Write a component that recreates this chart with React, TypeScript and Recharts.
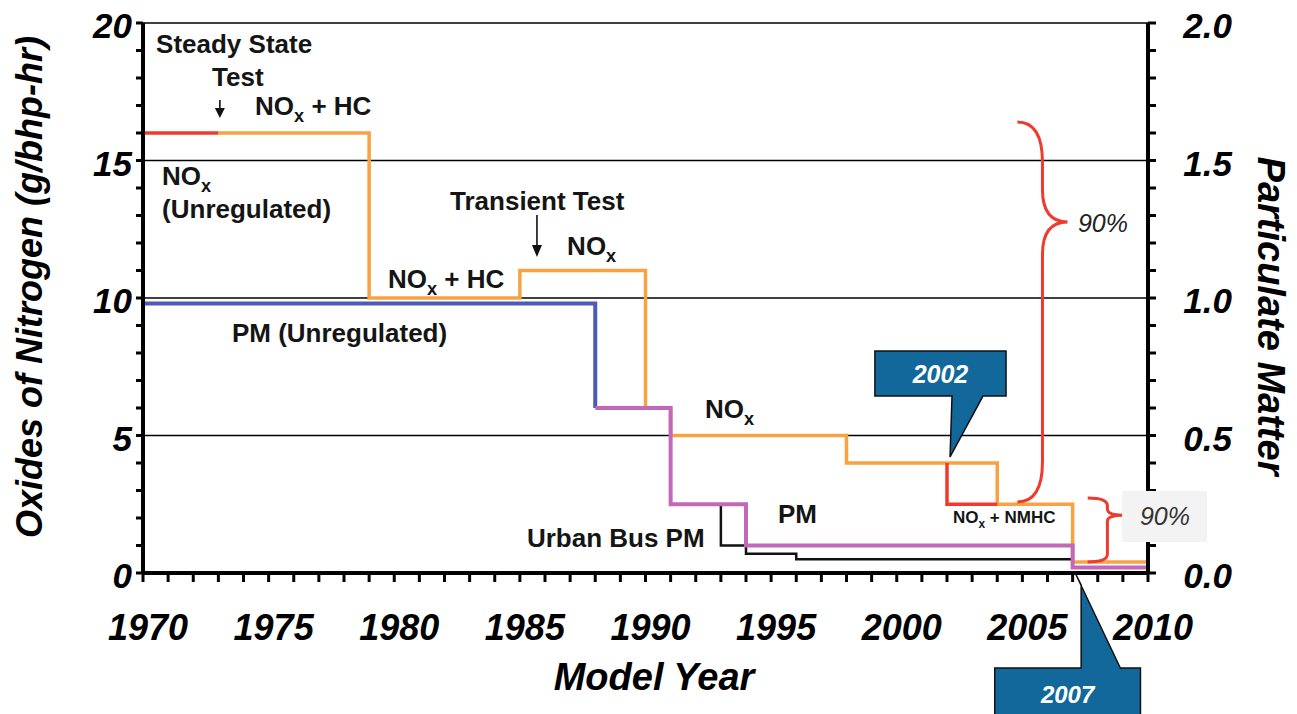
import React from "react";
import {
  ComposedChart,
  Line,
  XAxis,
  YAxis,
  Label,
  ReferenceLine,
  ReferenceArea,
  ReferenceDot,
} from "recharts";

const FONT = '"Liberation Sans", Arial, Helvetica, sans-serif';

// NOx limits (g/bhp-hr), step starts by model year
const noxUnregYears = [1970, 1973];
const noxUnregValues = [16, 16];
const noxStdYears = [1973, 1979, 1985, 1990, 1991, 1998, 2004, 2007, 2010];
const noxStdValues = [16, 10, 11, 6, 5, 4, 2.5, 0.4, 0.4];
const nmhcOptYears = [2002, 2002, 2004];
const nmhcOptValues = [4, 2.5, 2.5];

// PM limits (g/bhp-hr), right axis
const pmUnregYears = [1970, 1988];
const pmUnregValues = [0.98, 0.6];
const pmStdYears = [1988, 1991, 1994, 2007, 2010];
const pmStdValues = [0.6, 0.25, 0.1, 0.02, 0.02];
const busPmYears = [1993, 1993, 1994, 1996, 2007];
const busPmValues = [0.25, 0.1, 0.07, 0.05, 0.05];

// labelled ticks
const yearLabels = [1970, 1975, 1980, 1985, 1990, 1995, 2000, 2005, 2010];
const noxLabels = [0, 5, 10, 15, 20];
const pmLabels = ["0.0", "0.5", "1.0", "1.5", "2.0"];
const gridLevels = [5, 10, 15, 20];

// minor ticks, one per year / per unit
const yearTicks = Array.from({ length: 41 }, (_, i) => 1970 + i);
const noxTicks = Array.from({ length: 21 }, (_, i) => i);
const pmTicks = noxTicks.map((n) => n / 10);

const toPoints = (years: number[], values: number[]) =>
  years.map((year, i) => ({ year, v: values[i] }));

const COLORS = {
  red: "#ee3b2e",
  orange: "#f8a241",
  blue: "#4b5bb6",
  purple: "#c367b8",
  black: "#111111",
  callout: "#12679b",
};

const tickFont = {
  fontFamily: FONT,
  fontWeight: "bold" as const,
  fontStyle: "italic" as const,
  fill: "#000",
};

function YearTick({ x, y, payload }: any) {
  if (!yearLabels.includes(payload.value)) return <g />;
  return (
    <text x={x + 5} y={y + 58} textAnchor="middle" fontSize={36} {...tickFont}>
      {payload.value}
    </text>
  );
}

function NoxTick({ x, y, payload }: any) {
  if (!noxLabels.includes(payload.value)) return <g />;
  return (
    <text x={x - 4} y={y + 15} textAnchor="end" fontSize={35} {...tickFont}>
      {payload.value}
    </text>
  );
}

function PmTick({ x, y, payload }: any) {
  const label = payload.value.toFixed(1);
  if (!pmLabels.includes(label)) return <g />;
  return (
    <text x={x + 76} y={y + 15} textAnchor="end" fontSize={35} {...tickFont}>
      {label}
    </text>
  );
}

function LeftTitle({ viewBox }: any) {
  const cx = viewBox.x + 42;
  const cy = viewBox.y + viewBox.height / 2 - 11;
  return (
    <text
      x={cx}
      y={cy}
      transform={`rotate(-90 ${cx} ${cy})`}
      textAnchor="middle"
      fontSize={36}
      {...tickFont}
    >
      Oxides of Nitrogen (g/bhp-hr)
    </text>
  );
}

function RightTitle({ viewBox }: any) {
  const cx = viewBox.x + 110;
  const cy = viewBox.y + viewBox.height / 2 + 18;
  return (
    <text
      x={cx}
      y={cy}
      transform={`rotate(90 ${cx} ${cy})`}
      textAnchor="middle"
      fontSize={38}
      {...tickFont}
    >
      Particulate Matter
    </text>
  );
}

function BottomTitle({ viewBox }: any) {
  return (
    <text
      x={viewBox.x + 511}
      y={viewBox.y + 117}
      textAnchor="middle"
      fontSize={38}
      {...tickFont}
    >
      Model Year
    </text>
  );
}

// "NOx" with a subscript x, followed by the rest of the label
function nox(size: number, tail = "") {
  return [
    "NO",
    <tspan key="s" fontSize={size * 0.7} dy={size * 0.28}>
      x
    </tspan>,
    <tspan key="t" dy={-size * 0.28}>
      {tail}
    </tspan>,
  ];
}

function note(
  key: string,
  year: number,
  level: number,
  content: any,
  size = 26,
  extra: any = {}
) {
  return (
    <ReferenceDot
      key={key}
      x={year}
      y={level}
      yAxisId="left"
      r={0}
      ifOverflow="visible"
      zIndex={1600}
      shape={(p: any) => (
        <text
          x={p.cx}
          y={p.cy}
          fontFamily={FONT}
          fontSize={size}
          fontWeight="bold"
          fill="#151515"
          {...extra}
        >
          {content}
        </text>
      )}
    />
  );
}

function braceShape(tipFrac: number, midFrac: number) {
  return ({ x, y, width, height }: any) => {
    const xm = x + width * midFrac;
    const xr = x + width;
    const yb = y + height;
    const yt = y + height * tipFrac;
    const r = Math.min(width * 0.8, height * 0.12);
    const d = [
      `M${x},${y}`,
      `Q${xm},${y} ${xm},${y + r}`,
      `L${xm},${yt - r * 0.8}`,
      `Q${xm},${yt} ${xr},${yt}`,
      `Q${xm},${yt} ${xm},${yt + r * 0.8}`,
      `L${xm},${yb - r}`,
      `Q${xm},${yb} ${x},${yb}`,
    ].join(" ");
    return <path d={d} fill="none" stroke={COLORS.red} strokeWidth={3} />;
  };
}

function arrowShape({ x, y, width, height }: any) {
  const cx = x + width / 2;
  const head = Math.min(12, height * 0.55);
  return (
    <g>
      <line x1={cx} y1={y} x2={cx} y2={y + height - head + 1} stroke="#111" strokeWidth={1.6} />
      <path
        d={`M${cx - 5},${y + height - head} L${cx + 5},${y + height - head} L${cx},${y + height} Z`}
        fill="#111"
      />
    </g>
  );
}

function Callout2002({ x, y, width: w, height: h }: any) {
  const boxB = y + h * 0.425;
  const tipX = x + w * 0.573;
  const d = `M${x},${y} H${x + w} V${boxB} H${x + w * 0.824} L${tipX},${y + h} L${x + w * 0.588},${boxB} H${x} Z`;
  return (
    <g>
      <path d={d} fill={COLORS.callout} stroke="#111" strokeWidth={1.5} />
      <text
        x={x + w / 2}
        y={(y + boxB) / 2 + 9}
        textAnchor="middle"
        fontFamily={FONT}
        fontSize={25}
        fontWeight="bold"
        fontStyle="italic"
        fill="#fff"
      >
        2002
      </text>
    </g>
  );
}

function Callout2007({ x, y, width: w, height: h }: any) {
  const boxT = y + h * 0.576;
  const tipX = x + w * 0.552;
  const d = `M${tipX},${y} L${x + w * 0.862},${boxT} H${x + w} V${y + h} H${x} V${boxT} H${x + w * 0.593} V${y + 12} Z`;
  return (
    <g>
      <path d={d} fill={COLORS.callout} stroke="#111" strokeWidth={1.5} />
      <text
        x={x + w / 2}
        y={boxT + 35}
        textAnchor="middle"
        fontFamily={FONT}
        fontSize={24}
        fontWeight="bold"
        fontStyle="italic"
        fill="#fff"
      >
        2007
      </text>
    </g>
  );
}

export default function App() {
  const stepLine = (
    key: string,
    years: number[],
    values: number[],
    axis: string,
    color: string,
    width: number
  ) => (
    <Line
      key={key}
      data={toPoints(years, values)}
      dataKey="v"
      yAxisId={axis}
      type="stepAfter"
      stroke={color}
      strokeWidth={width}
      dot={false}
      activeDot={false}
      isAnimationActive={false}
    />
  );

  return (
    <div style={{ position: "absolute", left: 0, top: 0, width: 1297, height: 714, background: "#fff" }}>
      <ComposedChart width={1297} height={714} margin={{ top: 23, right: 0, bottom: 0, left: 0 }}>
        {gridLevels.map((g) => (
          <ReferenceLine key={`g${g}`} y={g} yAxisId="left" stroke="#000" strokeWidth={1.6} zIndex={-100} />
        ))}
        <XAxis
          type="number"
          dataKey="year"
          domain={[1970, 2010]}
          ticks={yearTicks}
          interval={0}
          tick={YearTick}
          tickSize={9}
          tickMargin={0}
          height={141}
          tickLine={{ stroke: "#000", strokeWidth: 3 }}
          axisLine={{ stroke: "#000", strokeWidth: 4 }}
        >
          <Label content={BottomTitle} />
        </XAxis>
        <YAxis
          yAxisId="left"
          orientation="left"
          type="number"
          domain={[0, 20]}
          ticks={noxTicks}
          interval={0}
          tick={NoxTick}
          tickSize={7}
          tickMargin={0}
          width={143}
          tickLine={{ stroke: "#000", strokeWidth: 3 }}
          axisLine={{ stroke: "#000", strokeWidth: 4 }}
        >
          <Label content={LeftTitle} />
        </YAxis>
        <YAxis
          yAxisId="right"
          orientation="right"
          type="number"
          domain={[0, 2]}
          ticks={pmTicks}
          interval={0}
          tick={PmTick}
          tickSize={8}
          tickMargin={0}
          width={149}
          tickLine={{ stroke: "#000", strokeWidth: 3 }}
          axisLine={{ stroke: "#000", strokeWidth: 4 }}
        >
          <Label content={RightTitle} />
        </YAxis>

        {stepLine("noxStd", noxStdYears, noxStdValues, "left", COLORS.orange, 3.5)}
        {stepLine("noxUnreg", noxUnregYears, noxUnregValues, "left", COLORS.red, 3.5)}
        {stepLine("nmhc", nmhcOptYears, nmhcOptValues, "left", COLORS.red, 3.5)}
        {stepLine("pmUnreg", pmUnregYears, pmUnregValues, "right", COLORS.blue, 4)}
        {stepLine("bus", busPmYears, busPmValues, "right", COLORS.black, 2.5)}
        {stepLine("pmStd", pmStdYears, pmStdValues, "right", COLORS.purple, 4)}

        {/* braces and callouts */}
        <ReferenceArea
          x1={2004.8}
          x2={2006.8}
          y1={2.58}
          y2={16.4}
          yAxisId="left"
          ifOverflow="visible"
          zIndex={1500}
          shape={braceShape(0.263, 0.5)}
        />
        <ReferenceArea
          x1={2007.6}
          x2={2009.0}
          y1={0.4}
          y2={2.73}
          yAxisId="left"
          ifOverflow="visible"
          zIndex={1500}
          shape={braceShape(0.27, 0.56)}
        />
        <ReferenceArea
          x1={2008.97}
          x2={2012.35}
          y1={1.13}
          y2={2.98}
          yAxisId="left"
          ifOverflow="visible"
          zIndex={1550}
          fill="#f2f3f2"
          fillOpacity={1}
          stroke="none"
        />
        <ReferenceArea
          x1={1999.13}
          x2={2004.35}
          y1={4.22}
          y2={8.07}
          yAxisId="left"
          ifOverflow="visible"
          zIndex={1500}
          shape={Callout2002}
        />
        <ReferenceArea
          x1={2003.9}
          x2={2009.7}
          y1={-6}
          y2={0}
          yAxisId="left"
          ifOverflow="visible"
          zIndex={1500}
          shape={Callout2007}
        />
        <ReferenceArea
          x1={1973.0}
          x2={1973.12}
          y1={16.55}
          y2={17.2}
          yAxisId="left"
          ifOverflow="visible"
          zIndex={1500}
          shape={arrowShape}
        />
        <ReferenceArea
          x1={1985.62}
          x2={1985.74}
          y1={11.49}
          y2={13.02}
          yAxisId="left"
          ifOverflow="visible"
          zIndex={1500}
          shape={arrowShape}
        />

        {/* text notes */}
        {note("ss", 1970.52, 18.91, "Steady State")}
        {note("test", 1972.75, 17.71, "Test")}
        {note("nhc1", 1974.46, 16.65, nox(26, " + HC"))}
        {note("nunreg", 1970.76, 14.11, nox(26))}
        {note("unreg", 1970.76, 12.91, "(Unregulated)")}
        {note("trans", 1982.22, 13.2, "Transient Test")}
        {note("n85", 1986.88, 11.56, nox(26))}
        {note("nhc2", 1979.75, 10.36, nox(26, " + HC"))}
        {note("pmunreg", 1973.54, 8.4, "PM (Unregulated)")}
        {note("n91", 1992.37, 5.64, nox(26))}
        {note("pm", 1995.27, 1.82, "PM")}
        {note("bus", 1985.28, 0.95, "Urban Bus PM")}
        {note("nmhc", 2002.24, 1.82, nox(17, " + NMHC"), 17)}
        {note("p90a", 2007.21, 12.4, "90%", 25, { fontWeight: "normal", fontStyle: "italic", fill: "#222" })}
        {note("p90b", 2009.68, 1.75, "90%", 25, { fontWeight: "normal", fontStyle: "italic", fill: "#333" })}
      </ComposedChart>
    </div>
  );
}
